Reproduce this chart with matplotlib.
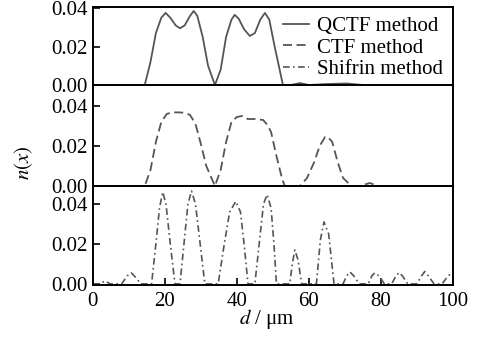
import matplotlib
matplotlib.use("Agg")
import matplotlib.pyplot as plt

plt.rcParams['font.family'] = ['Liberation Serif', 'DejaVu Serif']
plt.rcParams['mathtext.fontset'] = 'stix'
plt.rcParams['font.size'] = 15

# QCTF method (top panel)
qctf_d = [0, 14.4, 16, 17.5, 19, 20.2, 21.5, 23, 24.2, 25.5, 27, 28, 29, 30.5, 32, 33.9,
          35.5, 37, 38.5, 39.4, 40.5, 42, 43.6, 45, 46.5, 47.8, 49, 50.5, 52.8, 55,
          57.5, 60, 65, 70.5, 75, 100]
qctf_n = [0, 0, 0.012, 0.027, 0.035, 0.0375, 0.035, 0.031, 0.0295, 0.031, 0.036, 0.0385,
          0.036, 0.025, 0.01, 0, 0.008, 0.025, 0.034, 0.0365, 0.0345, 0.029, 0.0255, 0.027,
          0.034, 0.0375, 0.034, 0.02, 0, 0, 0.001, 0, 0.0005, 0.0008, 0, 0]

# CTF method (middle panel)
ctf_d = [0, 14.4, 16, 17.5, 19, 20.5, 22, 24, 25.6, 27, 28.5, 30, 31.5, 33.9, 35.5, 37,
         38.5, 40, 41.5, 43, 45, 47.3, 48.5, 49.5, 51, 52.5, 53.3, 57.5, 59.5, 61.5, 63,
         64.5, 65.3, 66.5, 68, 69.5, 71.8, 74, 77, 79, 100]
ctf_n = [0, 0, 0.008, 0.022, 0.032, 0.036, 0.0368, 0.0368, 0.0366, 0.0355, 0.031, 0.021,
         0.01, 0, 0.008, 0.022, 0.032, 0.0345, 0.035, 0.0335, 0.0335, 0.033, 0.0305, 0.027,
         0.015, 0.004, 0, 0, 0.004, 0.012, 0.020, 0.0245, 0.0245, 0.022, 0.012, 0.004, 0,
         0, 0.0015, 0, 0]

# Shifrin method (bottom panel)
shif_d = [0, 2, 3.3, 4.8, 8, 9.5, 10.7, 12, 13.3, 16.3, 17.5, 18.5, 19.4, 20.3, 21.5, 22.8,
          24.2, 25.3, 26.4, 27.4, 28.5, 29.8, 31.1, 34.8, 36.5, 38, 39.7, 41, 42, 43.1,
          45, 46.2, 47.4, 48.4, 49.5, 50.3, 51, 54.7, 55.4, 56.1, 57, 58, 62.1, 63.2, 64.2,
          65.5, 67, 69.5, 70.5, 71.4, 72.5, 74, 76.5, 77.5, 78.3, 79.5, 81, 83, 84.2, 85.1,
          86, 87.5, 90, 91.3, 92.2, 93.2, 94.8, 97, 98.7, 100]
shif_n = [0, 0, 0.0015, 0, 0, 0.004, 0.0055, 0.003, 0, 0, 0.02, 0.038, 0.046, 0.04, 0.02, 0,
          0, 0.02, 0.04, 0.0465, 0.04, 0.02, 0, 0, 0.02, 0.036, 0.0413, 0.036, 0.02, 0,
          0, 0.02, 0.04, 0.0447, 0.038, 0.02, 0, 0, 0.01, 0.017, 0.012, 0, 0, 0.022, 0.031,
          0.025, 0, 0, 0.004, 0.006, 0.004, 0, 0, 0.004, 0.0055, 0.004, 0, 0, 0.004, 0.0057,
          0.004, 0, 0, 0.004, 0.0062, 0.004, 0, 0, 0.004, 0.006]

labels = ["QCTF method", "CTF method", "Shifrin method"]
yticks = [0.0, 0.02, 0.04]
xticks = [0, 20, 40, 60, 80, 100]

fig = plt.figure(figsize=(4.89, 3.40), dpi=100)
ax1 = fig.add_axes([0.190, 0.750, 0.736, 0.229])
ax2 = fig.add_axes([0.190, 0.453, 0.736, 0.297])
ax3 = fig.add_axes([0.190, 0.162, 0.736, 0.291])

col = '#555555'
l1, = ax1.plot(qctf_d, qctf_n, color=col, lw=1.3, linestyle='-')
l2, = ax2.plot(ctf_d, ctf_n, color=col, lw=1.3, linestyle=(0, (5, 2.5)))
l3, = ax3.plot(shif_d, shif_n, color=col, lw=1.2, linestyle=(0, (4, 2, 1, 2)))

ax1.set_ylim(0, 0.0405)
ax2.set_ylim(0, 0.0505)
ax3.set_ylim(-0.0005, 0.049)

for ax in (ax1, ax2, ax3):
    ax.set_xlim(0, 100)
    ax.set_yticks(yticks)
    ax.set_yticklabels(["%.2f" % v for v in yticks])
    ax.tick_params(direction='in', length=5, width=1.2, pad=4)
    for s in ax.spines.values():
        s.set_linewidth(1.4)
    ax.set_xticks(xticks)
for ax in (ax1, ax2):
    ax.tick_params(axis='x', bottom=False, labelbottom=False)
ax3.tick_params(axis='x', pad=5)

leg = ax1.legend([l1, l2, l3], labels, loc='upper right', frameon=False,
                 handlelength=1.25, handletextpad=0.4, labelspacing=0.1,
                 borderaxespad=0.15, borderpad=0.3, fontsize=15)

fig.text(0.048, 0.52, "$n(x)$", rotation=90, ha='center', va='center', fontsize=15)
fig.text(0.545, 0.062, "$d$ / μm", ha='center', va='center', fontsize=15)

fig.savefig("out.png", dpi=100)
